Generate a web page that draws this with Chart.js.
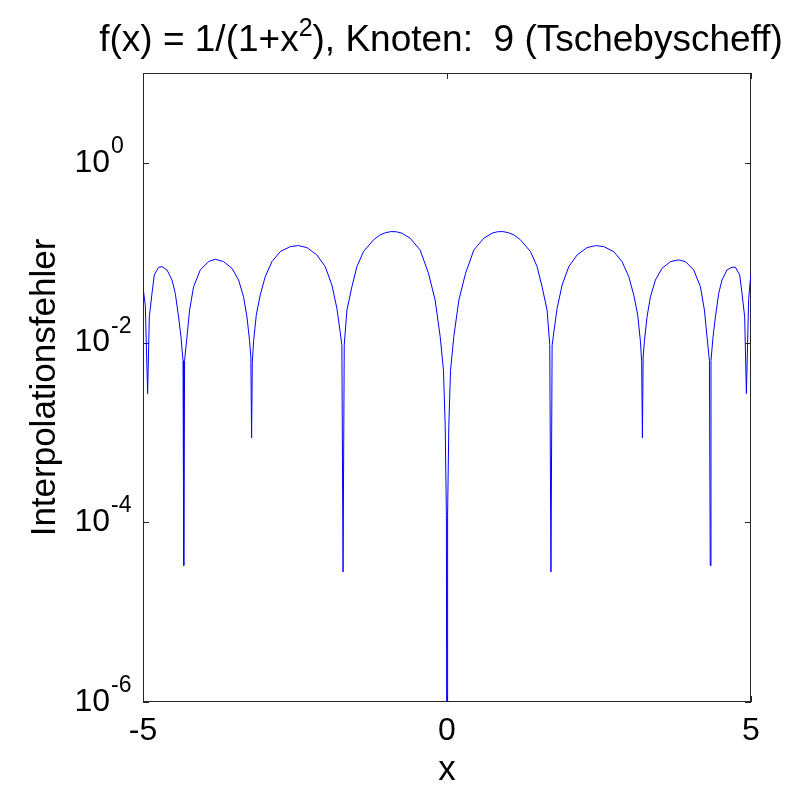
<!DOCTYPE html>
<html>
<head>
<meta charset="utf-8">
<script src="https://cdn.jsdelivr.net/npm/chart.js@4.4.0/dist/chart.umd.min.js"></script>
<style>
html, body { margin: 0; padding: 0; background: #fff; }
#wrap { width: 797px; height: 788px; }
</style>
</head>
<body>
<div id="wrap"><canvas id="chart-area" width="797" height="788"></canvas></div>
<script>
// interpolation error (x, |error|)
var errX = [
	-5.000, -4.962, -4.924, -4.896, -4.852, -4.814, -4.744, -4.688, -4.605, -4.523,
	-4.469, -4.415, -4.375, -4.342, -4.330, -4.316, -4.277, -4.234, -4.168, -4.058,
	-3.922, -3.811, -3.675, -3.537, -3.428, -3.346, -3.290, -3.248, -3.226, -3.214,
	-3.202, -3.182, -3.137, -3.072, -2.990, -2.879, -2.743, -2.578, -2.442, -2.304,
	-2.140, -2.003, -1.893, -1.811, -1.757, -1.729, -1.710, -1.690, -1.646, -1.564,
	-1.482, -1.373, -1.209, -1.100, -1.010, -0.918, -0.830, -0.742, -0.606, -0.441,
	-0.305, -0.195, -0.112, -0.058, -0.030, -0.010, 0.000,
	0.010, 0.030, 0.058, 0.112, 0.195, 0.305, 0.441, 0.606, 0.742, 0.830,
	0.918, 1.010, 1.100, 1.209, 1.373, 1.482, 1.564, 1.646, 1.690, 1.710,
	1.729, 1.757, 1.811, 1.893, 2.003, 2.140, 2.304, 2.442, 2.578, 2.743,
	2.879, 2.990, 3.072, 3.137, 3.182, 3.202, 3.214, 3.226, 3.248, 3.290,
	3.346, 3.428, 3.537, 3.675, 3.811, 3.922, 4.058, 4.168, 4.234, 4.277,
	4.316, 4.330, 4.342, 4.375, 4.415, 4.469, 4.523, 4.605, 4.688, 4.744,
	4.814, 4.852, 4.896, 4.924, 4.962, 5.000
];
var errY = [
	0.0412, 0.026, 0.0027, 0.0193, 0.0353, 0.0565, 0.0689, 0.0700, 0.0643, 0.0497,
	0.0353, 0.0193, 0.0115, 0.0063, 0.000033, 0.0063, 0.0115, 0.0230, 0.0418, 0.0643,
	0.0796, 0.0846, 0.0796, 0.0671, 0.0497, 0.0323, 0.0193, 0.0106, 0.0069, 0.00087,
	0.0060, 0.0102, 0.0202, 0.0338, 0.0541, 0.0796, 0.1028, 0.117, 0.120, 0.114,
	0.0945, 0.0700, 0.0437, 0.0240, 0.0131, 0.0093, 0.000028, 0.0095, 0.0230, 0.0418,
	0.0700, 0.103, 0.139, 0.158, 0.167, 0.172, 0.171, 0.165, 0.145, 0.107,
	0.059, 0.0297, 0.0116, 0.0049, 0.0012, 0.00012, 1e-9,
	0.00012, 0.0012, 0.0049, 0.0116, 0.0297, 0.059, 0.107, 0.145, 0.165, 0.171,
	0.172, 0.167, 0.158, 0.139, 0.103, 0.0700, 0.0418, 0.0230, 0.0095, 0.000028,
	0.0093, 0.0131, 0.0240, 0.0437, 0.0700, 0.0945, 0.114, 0.120, 0.117, 0.1028,
	0.0796, 0.0541, 0.0338, 0.0202, 0.0102, 0.0060, 0.00087, 0.0069, 0.0106, 0.0193,
	0.0323, 0.0497, 0.0671, 0.0796, 0.0832, 0.0796, 0.0643, 0.0418, 0.0230, 0.0115,
	0.0063, 0.000033, 0.0063, 0.0115, 0.0193, 0.0353, 0.0497, 0.0643, 0.0689, 0.0689,
	0.0565, 0.0353, 0.0193, 0.0027, 0.031, 0.0594
];
var xTicks = [-5, 0, 5];
var yTickValues = [1e-6, 1e-4, 1e-2, 1];
var yTickBase = '10';
var yTickExponents = ['-6', '-4', '-2', '0'];
// title pieces: text before the superscript, the superscript, text after it
var titleParts = ['f(x) = 1/(1+x', '2', '), Knoten:  9 (Tschebyscheff)'];

var fontFamily = '"Liberation Sans", Arial, Helvetica, sans-serif';

// box round the plot with inward tick marks, like the original figure
var framePlugin = {
	id: 'frame',
	beforeDatasetsDraw: function(chart) {
		var a = chart.chartArea, ctx = chart.ctx;
		var xs = chart.scales.x, ys = chart.scales.y;
		var len = 6;
		ctx.save();
		ctx.strokeStyle = '#262626';
		ctx.lineWidth = 1;
		ctx.beginPath();
		xs.ticks.forEach(function(t) {
			var px = Math.round(xs.getPixelForValue(t.value)) + 0.5;
			ctx.moveTo(px, a.bottom); ctx.lineTo(px, a.bottom - len);
			ctx.moveTo(px, a.top); ctx.lineTo(px, a.top + len);
		});
		ys.ticks.forEach(function(t) {
			var py = Math.round(ys.getPixelForValue(t.value)) + 0.5;
			ctx.moveTo(a.left, py); ctx.lineTo(a.left + len, py);
			ctx.moveTo(a.right, py); ctx.lineTo(a.right - len, py);
		});
		ctx.stroke();
		ctx.strokeRect(Math.round(a.left) + 0.5, Math.round(a.top) + 0.5,
			Math.round(a.right - a.left) - 1, Math.round(a.bottom - a.top) - 1);
		ctx.restore();
	},
	afterDraw: function(chart) {
		var ys = chart.scales.y, ctx = chart.ctx;
		ctx.save();
		ctx.fillStyle = '#000';
		ctx.textAlign = 'left';
		ctx.textBaseline = 'alphabetic';

		// raised exponents after the "10" tick labels
		ctx.font = '23px ' + fontFamily;
		ys.ticks.forEach(function(t) {
			var i = yTickValues.indexOf(t.value);
			if (i < 0) return;
			var py = ys.getPixelForValue(t.value);
			ctx.fillText(yTickExponents[i], 111, py - 10);
		});

		// title with a real superscript, centred a bit left of the plot centre
		var big = '37px ' + fontFamily, small = '25px ' + fontFamily;
		ctx.font = big;
		var w0 = ctx.measureText(titleParts[0]).width;
		var w2 = ctx.measureText(titleParts[2]).width;
		ctx.font = small;
		var w1 = ctx.measureText(titleParts[1]).width;
		var x = 441 - (w0 + w1 + w2) / 2, base = 51;
		ctx.font = big;
		ctx.fillText(titleParts[0], x, base);
		ctx.font = small;
		ctx.fillText(titleParts[1], x + w0, base - 15);
		ctx.font = big;
		ctx.fillText(titleParts[2], x + w0 + w1, base);
		ctx.restore();
	}
};

var config = {
	type: 'line',
	data: {
		datasets: [{
			data: errX.map(function(x, i) { return {x: x, y: errY[i]}; }),
			borderColor: '#0000ff',
			borderWidth: 1,
			pointRadius: 0,
			fill: false,
			tension: 0
		}]
	},
	options: {
		responsive: false,
		animation: false,
		layout: { padding: { left: 0, right: 46, top: 73, bottom: 0 } },
		plugins: {
			legend: { display: false },
			tooltip: { enabled: false },
			title: { display: false }
		},
		scales: {
			x: {
				type: 'linear',
				min: -5,
				max: 5,
				afterBuildTicks: function(scale) {
					scale.ticks = xTicks.map(function(v) { return {value: v}; });
				},
				afterFit: function(scale) { scale.height = 86; },
				grid: { display: false, drawTicks: false },
				border: { display: false },
				ticks: {
					color: '#000',
					padding: 10,
					maxRotation: 0,
					font: { family: fontFamily, size: 32 },
					callback: function(v) { return String(v); }
				},
				title: {
					display: true,
					text: 'x',
					color: '#000',
					font: { family: fontFamily, size: 35, lineHeight: 1 },
					padding: { top: 0, bottom: 0 }
				}
			},
			y: {
				type: 'logarithmic',
				min: 1e-6,
				max: 10,
				afterBuildTicks: function(scale) {
					scale.ticks = yTickValues.map(function(v) { return {value: v}; });
				},
				afterFit: function(scale) { scale.width = 143; },
				grid: { display: false, drawTicks: false },
				border: { display: false },
				ticks: {
					color: '#000',
					padding: 33,
					autoSkip: false,
					font: { family: fontFamily, size: 32 },
					callback: function(v) {
						return yTickValues.indexOf(v) < 0 ? '' : yTickBase;
					}
				},
				title: {
					display: true,
					text: 'Interpolationsfehler',
					color: '#000',
					font: { family: fontFamily, size: 35, lineHeight: 1.2 },
					padding: { top: 24, bottom: 0 }
				}
			}
		}
	},
	plugins: [framePlugin]
};

var ctx = document.getElementById('chart-area').getContext('2d');
window.myChart = new Chart(ctx, config);
</script>
</body>
</html>
